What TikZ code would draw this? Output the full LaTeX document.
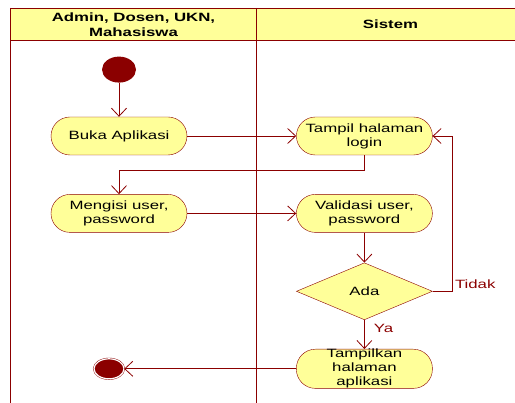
\documentclass[tikz,border=0pt]{standalone}
\usepackage{fontspec}
\setmainfont{Liberation Sans}[FakeStretch=1.4]
\usetikzlibrary{arrows.meta,positioning,calc}
\usetikzlibrary{shapes}

\definecolor{umlred}{HTML}{8B0000}
\definecolor{umlfill}{HTML}{FFFF99}

\begin{document}
\begin{tikzpicture}[x=1pt,y=-1pt,
    font=\fontsize{12}{14}\selectfont,
    >={Straight Barb[length=8pt,width=15pt]},
    act/.style={draw=umlred,fill=umlfill,rectangle,rounded corners=19pt,minimum width=136pt,minimum height=38pt,inner sep=0pt,align=center},
    cond/.style={draw=umlred,fill=umlfill,diamond,minimum width=136pt,minimum height=57pt,inner sep=0pt},
    lane/.style={draw=umlred,fill=umlfill,rectangle,minimum height=32pt,inner sep=0pt,align=center,font=\fontsize{12}{15}\selectfont\bfseries,anchor=north west},
    start/.style={ellipse,fill=umlred,minimum width=34pt,minimum height=26pt,inner sep=0pt},
    finish/.style={ellipse,draw=umlred,fill=umlred,double=white,double distance=1.2pt,minimum width=30pt,minimum height=20pt,inner sep=0pt},
    flow/.style={->,draw=umlred,line width=0.8pt},
    lbl/.style={text=umlred,inner sep=2pt}]
      \useasboundingbox (0,0) rectangle (515,403);

      \node[lane,line width=1pt,minimum width=246pt] (actor) at (10,8) {Admin, Dosen, UKN,\\Mahasiswa};
      \node[lane,line width=1pt,minimum width=268pt] (sistem) at (256,8) {Sistem};

      \coordinate (bottom) at (0,403);
      \draw[umlred,line width=0.8pt] (actor.north west) -- (actor.north west |- bottom);
      \draw[umlred,line width=0.8pt] (sistem.north west) -- (sistem.north west |- bottom);

      \node[act] (buka) at (119,136) {Buka Aplikasi};
      \node[start,above = 34pt of buka] (mulai) {};
      \node[act,right = 109pt of buka] (login) {Tampil halaman\\login};
      \node[act,below = 39pt of buka] (isi) {Mengisi user,\\password};
      \node[act,below = 39pt of login] (validasi) {Validasi user,\\password};
      \node[cond,below = 30pt of validasi] (ada) {Ada};
      \node[act,below = 29pt of ada] (tampilkan) {Tampilkan\\halaman\\aplikasi};
      \node[finish,left = 172pt of tampilkan] (selesai) {};

      \draw[flow] (mulai) -- (buka);
      \draw[flow] (buka) -- (login);
      \draw[flow] (login.south) -- ++(0,15) -| (isi.north);
      \draw[flow] (isi) -- (validasi);
      \draw[flow] (validasi) -- (ada);
      \draw[flow] (ada.east) -- ++(20,0) node[lbl,anchor=south west,pos=1] {Tidak} |- (login.east);
      \draw[flow] (ada) -- node[lbl,right=7pt,pos=0.3] {Ya} (tampilkan);
      \draw[flow] (tampilkan) -- (selesai);

\end{tikzpicture}
\end{document}
